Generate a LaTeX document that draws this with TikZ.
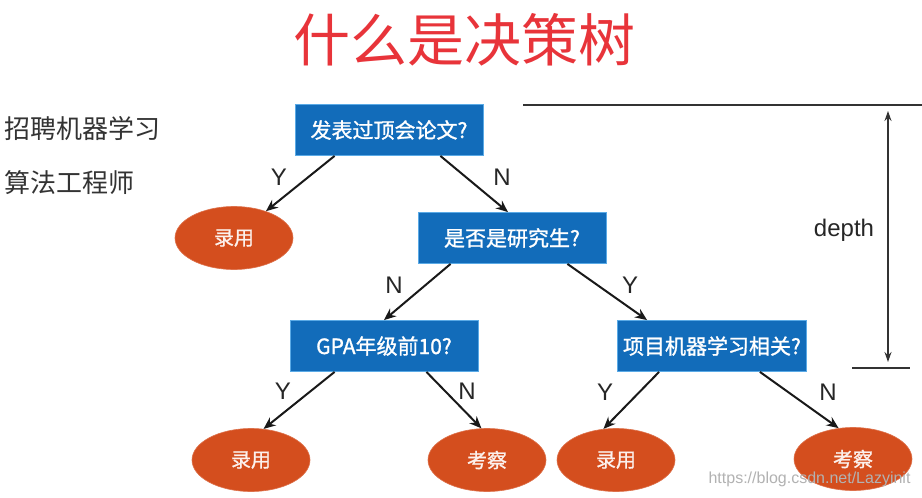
\documentclass[tikz,border=0pt]{standalone}
\usepackage{fontspec}
\setmainfont{Liberation Sans}
\newfontfamily\cjk{Noto Sans CJK SC}
\newfontfamily\cjkb{Noto Sans CJK SC}[FakeBold=1.2]
\usetikzlibrary{shapes.geometric,arrows.meta}
\definecolor{boxblue}{RGB}{18,108,186}
\definecolor{boxedge}{RGB}{90,170,230}
\definecolor{leaf}{RGB}{212,78,30}
\definecolor{titlered}{RGB}{232,52,58}
\tikzset{
  qbox/.style={rectangle, fill=boxblue, draw=boxedge, line width=0.8pt, text=white,
    minimum width=188pt, minimum height=51pt, inner sep=0pt,
    font=\cjkb\fontsize{21}{25}\selectfont},
  leafnode/.style={ellipse, fill=leaf, draw=leaf!80!white, line width=0.6pt, text=white!92!leaf,
    minimum width=118pt, minimum height=63pt, inner sep=0pt,
    font=\cjkb\fontsize{20}{24}\selectfont},
  arr/.style={-{Stealth[length=12pt,width=10pt]}, line width=2pt, black!90},
  lbl/.style={font=\fontsize{24}{28}\selectfont, text=black!85},
  side/.style={font=\cjk\fontsize{26}{30}\selectfont, text=black!80, anchor=west}
}
\begin{document}
\begin{tikzpicture}[x=1pt,y=-1pt]
\useasboundingbox[fill=white] (0,0) rectangle (922,498);
% title
\node[font=\cjk\fontsize{57}{64}\selectfont, text=titlered] (title) at (464,40) {什么是决策树};
% side texts
\node[side] (s1) at (1,129) {招聘机器学习};
\node[side] (s2) at (1,183) {算法工程师};
% question boxes
\node[qbox] (b1) at (389,130) {发表过顶会论文?};
\node[qbox] (b2) at (512,238) {是否是研究生?};
\node[qbox] (b3) at (384,346) {GPA年级前10?};
\node[qbox, minimum width=189pt] (b4) at (712,346) {项目机器学习相关?};
% leaves
\node[leafnode] (e1) at (234,238) {录用};
\node[leafnode] (e2) at (251,460) {录用};
\node[leafnode] (e3) at (487,460) {考察};
\node[leafnode] (e4) at (616,460) {录用};
\node[leafnode] (e5) at (853,459) {考察};
% connectors
\draw[arr] ([xshift=40pt]b1.south west) -- (e1.40);
\draw[arr] ([xshift=-43pt]b1.south east) -- ([xshift=-4pt]b2.north);
\draw[arr] ([xshift=33pt]b2.south west) -- (b3.north);
\draw[arr] ([xshift=-39pt]b2.south east) -- ([xshift=30pt]b4.north west);
\draw[arr] ([xshift=45pt]b3.south west) -- (e2.68);
\draw[arr] ([xshift=-52pt]b3.south east) -- (e3.100);
\draw[arr] ([xshift=42pt]b4.south west) -- (e4.112);
\draw[arr] ([xshift=-47pt]b4.south east) -- (e5.115);
% labels
\node[lbl] (y1) at (279,177) {Y};
\node[lbl] (n1) at (502,177) {N};
\node[lbl] (n2) at (394,285) {N};
\node[lbl] (y2) at (630,285) {Y};
\node[lbl] (y3) at (283,391) {Y};
\node[lbl] (n3) at (467,391) {N};
\node[lbl] (y4) at (605,392) {Y};
\node[lbl] (n4) at (828,392) {N};
% depth
\coordinate (dt1) at (523,105);
\coordinate (dt2) at (922,105);
\coordinate (db1) at (852,368);
\coordinate (db2) at (910,368);
\coordinate (da1) at (888,111);
\coordinate (da2) at (888,362);
\draw[line width=1.8pt, black!80] (dt1) -- (dt2);
\draw[line width=1.8pt, black!80] (db1) -- (db2);
\draw[{Stealth[length=10pt,width=7pt]}-{Stealth[length=10pt,width=7pt]}, line width=1.2pt, black!80] (da1) -- (da2);
\node[lbl] (depth) at (844,230) {depth};
% watermark
\node[font=\fontsize{16}{19}\selectfont, text=gray!60, anchor=east] (wm) at (914,479) {https://blog.csdn.net/Lazyinit};
\end{tikzpicture}
\end{document}
